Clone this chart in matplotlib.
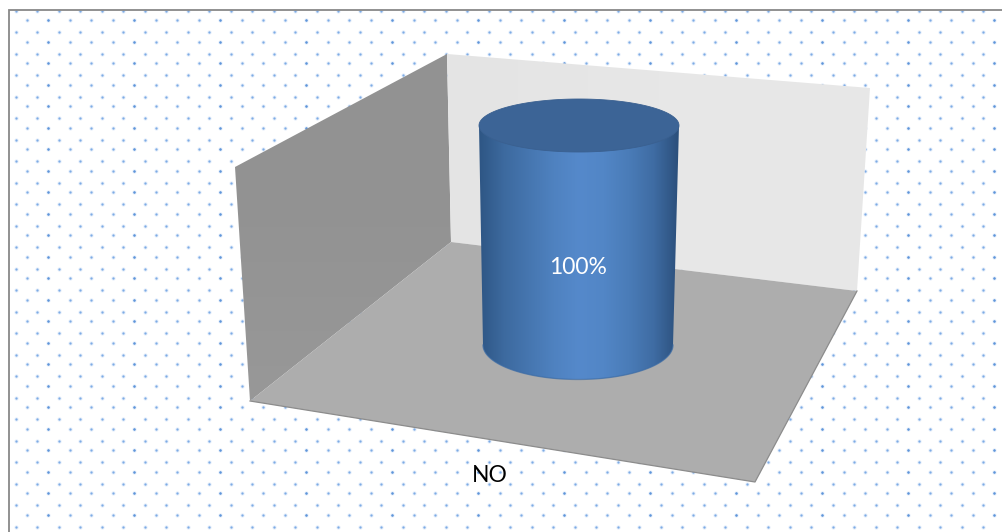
import numpy as np
import matplotlib
matplotlib.use('Agg')
import matplotlib.pyplot as plt
from matplotlib.colors import LinearSegmentedColormap
from matplotlib.patches import Polygon

categories = ['NO']
values = [100]
axis_max = 100

W, H = 1002, 532

# 图表区的三个面(像素坐标)
left_wall = [(235, 167), (447, 54), (451, 242), (250, 401)]
back_wall = [(447, 54), (870, 88), (857, 291), (451, 242)]
floor = [(250, 401), (451, 242), (857, 291), (755, 482)]

# 圆柱底部和满刻度时顶部的椭圆: 中心x, 中心y, 半宽, 半高
base_ellipse = (578, 345, 95, 34.5)
full_ellipse = (579, 125.5, 100, 26.5)

fig = plt.figure(figsize=(W / 100, H / 100), dpi=100)
ax = fig.add_axes([0, 0, 1, 1])
ax.axis('off')

# 背景点阵
step = 21.5
xa = np.arange(16, W + 5, step)
ya = np.arange(10.7, H + 5, step)
xb = np.arange(26.7, W + 5, step)
yb = np.arange(20.3, H + 5, step)
px, py, dark_x, dark_y = [], [], [], []
for y in ya:
    for x in xa:
        px.append(x)
        py.append(y)
for y in yb:
    for i, x in enumerate(xb):
        px.append(x)
        py.append(y)
        if i % 4 == 1:
            dark_x.append(x)
            dark_y.append(y)
ax.scatter(px, py, s=9, color='#cfe0f6', alpha=0.6, linewidths=0, zorder=1)
ax.scatter(px, py, s=2.6, color='#7dabe6', linewidths=0, zorder=1.1)
ax.scatter(dark_x, dark_y, s=2.6, color='#5f95da', linewidths=0, zorder=1.2)


def fill_gradient(verts, colors, horizontal=True, zorder=2):
    # 用裁剪后的 imshow 填充渐变
    cmap = LinearSegmentedColormap.from_list('g', colors)
    grad = np.linspace(0, 1, 256).reshape(1, -1) if horizontal else np.linspace(0, 1, 256).reshape(-1, 1)
    xs = [v[0] for v in verts]
    ys = [v[1] for v in verts]
    im = ax.imshow(grad, cmap=cmap, extent=(min(xs), max(xs), max(ys), min(ys)),
                   aspect='auto', zorder=zorder, interpolation='bilinear')
    clip = Polygon(verts, closed=True, transform=ax.transData, fc='none', ec='none')
    ax.add_patch(clip)
    im.set_clip_path(clip)


fill_gradient(left_wall, ['#929292', '#939393', '#989898'], horizontal=False)
fill_gradient(back_wall, ['#e4e4e4', '#e7e7e7', '#e8e8e8'])
ax.add_patch(Polygon(floor, closed=True, fc='#adadad', ec='none', zorder=2.1))
# 地板前缘的深色线
ax.plot([floor[0][0], floor[3][0], floor[2][0]], [floor[0][1], floor[3][1], floor[2][1]],
        color='#8c8c8c', lw=0.9, zorder=2.2)

# 圆柱: 高度和顶部椭圆按数值插值
frac = values[0] / axis_max
bx, by, brx, bry = base_ellipse
fx, fy, frx, fry = full_ellipse
tx = bx + (fx - bx) * frac
ty = by + (fy - by) * frac
trx = brx + (frx - brx) * frac
try_ = bry + (fry - bry) * frac

t = np.linspace(0, np.pi, 120)
lower_arc = np.column_stack([bx - brx * np.cos(t), by + bry * np.sin(t)])
side = [(tx - trx, ty)] + [tuple(p) for p in lower_arc] + [(tx + trx, ty)]
fill_gradient(side, ['#2e5684', '#3d6a9f', '#4676b0', '#4f82c0', '#5589cb', '#5286c6',
                     '#4a7cb8', '#3f6ca3', '#2b4f7b'], zorder=3)
# 底部边缘稍暗
ax.plot(lower_arc[:, 0], lower_arc[:, 1], color='#3a6ba6', lw=0.9, alpha=0.7, zorder=3.2)

t = np.linspace(0, 2 * np.pi, 200)
top = np.column_stack([tx + trx * np.cos(t), ty + try_ * np.sin(t)])
ax.add_patch(Polygon(top, closed=True, fc='#3c6496', ec='#3a6090', lw=0.6, zorder=3.5))

# 数据标签在柱身偏下的位置
ax.text(bx, by - 0.355 * (by - ty), f'{values[0]}%', color='white', fontsize=16.5, family='Lato',
        ha='center', va='center', zorder=4)
ax.text(490, 475, categories[0], color='black', fontsize=16.5, family='Lato',
        ha='center', va='center', zorder=4)

# 外框只有左边和上边落在画面内
ax.plot([9, 9, W], [H, 10, 10], color='#888888', lw=1.3, zorder=5, solid_joinstyle='miter')

ax.set_xlim(0, W)
ax.set_ylim(H, 0)
fig.savefig('out.png', dpi=100, facecolor='white')
